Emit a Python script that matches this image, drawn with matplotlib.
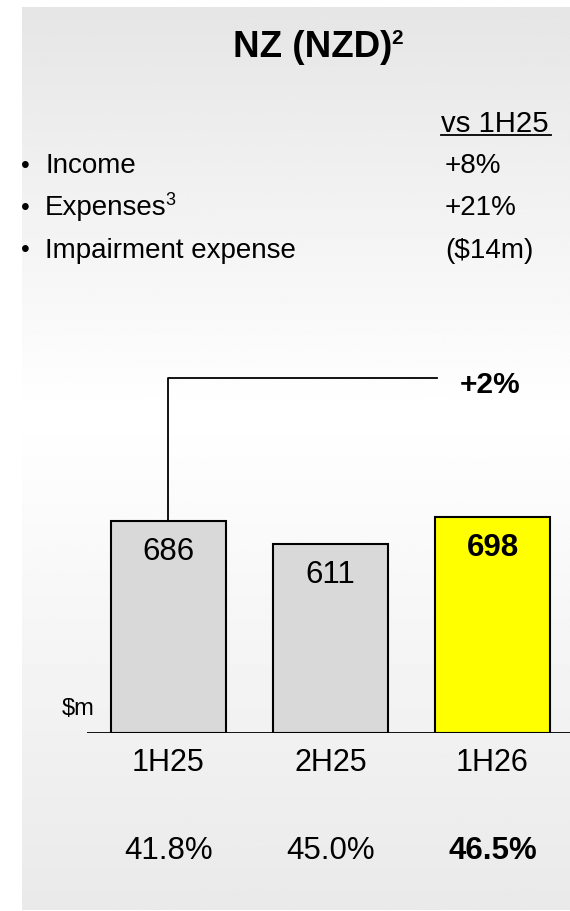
import numpy as np
import matplotlib.pyplot as plt

plt.rcParams['font.family'] = ['Liberation Sans', 'DejaVu Sans']

# data
periods = ['1H25', '2H25', '1H26']
values = [686, 611, 698]
ratios = ['41.8%', '45.0%', '46.5%']
bar_colors = ['#d9d9d9', '#d9d9d9', '#ffff00']
growth_label = '+2%'
bullet_items = ['Income', 'Expenses', 'Impairment expense']
bullet_notes = ['', '3', '']
bullet_changes = ['+8%', '+21%', '($14m)']

W, H = 570, 911
fig = plt.figure(figsize=(W / 100, H / 100), dpi=100)
PT = 1 / 1.389  # px -> pt at 100 dpi


def fx(px):
    return px / W


def fy(py):
    return 1 - py / H


# gradient panel background
bg = fig.add_axes([fx(22), fy(910), fx(570) - fx(22), fy(7) - fy(910)])
grad = np.interp(np.linspace(0, 1, 400), [0.0, 0.45, 1.0], [0.90, 1.0, 0.915])
img = np.repeat(grad[:, None], 2, axis=1)
bg.imshow(img, cmap='gray', vmin=0, vmax=1, aspect='auto', extent=[0, 1, 0, 1])
bg.axis('off')

# title
fig.text(fx(233), fy(56.7), 'NZ (NZD)', ha='left', va='baseline',
         fontsize=26.5, fontweight='bold')
fig.text(fx(391), fy(29.5), '2', ha='left', va='top', fontsize=15, fontweight='bold')

# bullets
fig.text(fx(441), fy(131.7), 'vs 1H25', ha='left', va='baseline', fontsize=21.2)
fig.add_artist(plt.Line2D([fx(441), fx(551)], [fy(135), fy(135)], color='black', lw=1.3))
row_base = [173, 215, 257.5]
for item, note, chg, yb in zip(bullet_items, bullet_notes, bullet_changes, row_base):
    fig.text(fx(21), fy(yb), '•', ha='left', va='baseline', fontsize=18)
    fig.text(fx(45), fy(yb), item, ha='left', va='baseline', fontsize=20)
    if note:
        fig.text(fx(45 + 120), fy(yb - 10), note, ha='left', va='baseline', fontsize=13)
    fig.text(fx(445), fy(yb), chg, ha='left', va='baseline', fontsize=20)

# bar chart axes (pixel box 87..570 x, 300..733 y)
ax_top, ax_bot = 300, 732.5
ax = fig.add_axes([fx(87), fy(ax_bot), fx(570) - fx(87), fy(ax_top) - fy(ax_bot)])
ax.patch.set_alpha(0)
ppu = 0.309  # pixels per unit
ax.set_ylim(0, (ax_bot - ax_top) / ppu)
ax.set_xlim(-0.503, 2.478)
x = np.arange(len(periods))
ax.bar(x, values, width=0.71, color=bar_colors, edgecolor='black', linewidth=1.5, zorder=3)
for s in ax.spines.values():
    s.set_visible(False)
ax.set_xticks([])
ax.set_yticks([])
ax.axhline(0, color='black', lw=1.3, zorder=4)

for i, v in enumerate(values):
    bold = i == len(values) - 1
    ax.annotate(str(v), xy=(i, v), xytext=(0, -39 * PT), textcoords='offset points',
                ha='center', va='baseline', fontsize=22.5,
                fontweight='bold' if bold else 'normal', zorder=5)
    ax.annotate(periods[i], xy=(i, 0), xytext=(0, -39 * PT), textcoords='offset points',
                ha='center', va='baseline', fontsize=22)
    ax.annotate(ratios[i], xy=(i, 0), xytext=(0, -126.5 * PT), textcoords='offset points',
                ha='center', va='baseline', fontsize=22.5,
                fontweight='bold' if bold else 'normal')

# growth connector
conn_y = (ax_bot - 378) / ppu
ax.plot([0, 0, 1.657], [values[0], conn_y, conn_y], color='black', lw=1.3,
        clip_on=False, zorder=2)
ax.text(1.985, (ax_bot - 393) / ppu, growth_label, ha='center', va='baseline',
        fontsize=21.5, fontweight='bold')

# unit label sits left of the axis
ax.text(-0.555, (ax_bot - 715) / ppu, '$m', ha='center', va='baseline', fontsize=17)

fig.savefig('out.png', dpi=100)
